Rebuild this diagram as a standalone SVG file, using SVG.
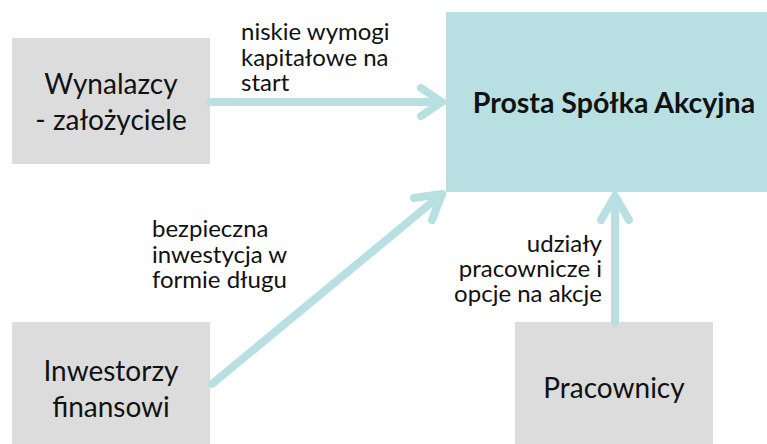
<svg xmlns="http://www.w3.org/2000/svg" width="767" height="444" viewBox="0 0 767 444">
<style>
.grey{fill:#DCDCDC}
.main{fill:#B8DFE2}
.t{font-family:Lato,"Open Sans",sans-serif;fill:#111}
.node{font-size:28px;text-anchor:middle}
.lbl{font-size:24px}
.conn{stroke:#B8DFE2;stroke-width:8;fill:none;stroke-linecap:round;stroke-linejoin:round}
</style>
<rect width="767" height="444" fill="#fff"/>
<g id="psa">
<rect class="main" x="446" y="12" width="321" height="180"/>
<text class="t" x="614" y="113" font-size="28.5" font-weight="bold" text-anchor="middle">Prosta Spółka Akcyjna</text>
</g>
<g id="wynalazcy">
<rect class="grey" x="12" y="38" width="198" height="126"/>
<text class="t node" x="111" y="94">Wynalazcy</text>
<text class="t node" x="111" y="130">- założyciele</text>
</g>
<g id="inwestorzy">
<rect class="grey" x="12" y="322" width="198" height="122"/>
<text class="t node" x="111" y="381">Inwestorzy</text>
<text class="t node" x="111" y="417">finansowi</text>
</g>
<g id="pracownicy">
<rect class="grey" x="515" y="322" width="198" height="122"/>
<text class="t node" x="614" y="398">Pracownicy</text>
</g>
<g id="connectors">
<path class="conn" d="M210 102 H442 M421 88 L442 102 L421 116" stroke-linecap="butt"/>
<path class="conn" d="M212 384 L442 194"/>
<path class="conn" d="M414 198 L442 194 L432 220"/>
<path class="conn" d="M615 322 V196 M601 220 L615 196 L629 220"/>
<path class="conn" d="M210 102 H230" stroke-linecap="butt"/>
</g>
<g id="labels">
<text class="t lbl" x="241" y="40">niskie wymogi</text>
<text class="t lbl" x="241" y="65.5">kapitałowe na</text>
<text class="t lbl" x="241" y="91">start</text>
<text class="t lbl" x="152" y="237">bezpieczna</text>
<text class="t lbl" x="152" y="262.5">inwestycja w</text>
<text class="t lbl" x="152" y="288">formie długu</text>
<text class="t lbl" x="602" y="252" text-anchor="end">udziały</text>
<text class="t lbl" x="602" y="277" text-anchor="end">pracownicze i</text>
<text class="t lbl" x="602" y="302" text-anchor="end">opcje na akcje</text>
</g>
</svg>
